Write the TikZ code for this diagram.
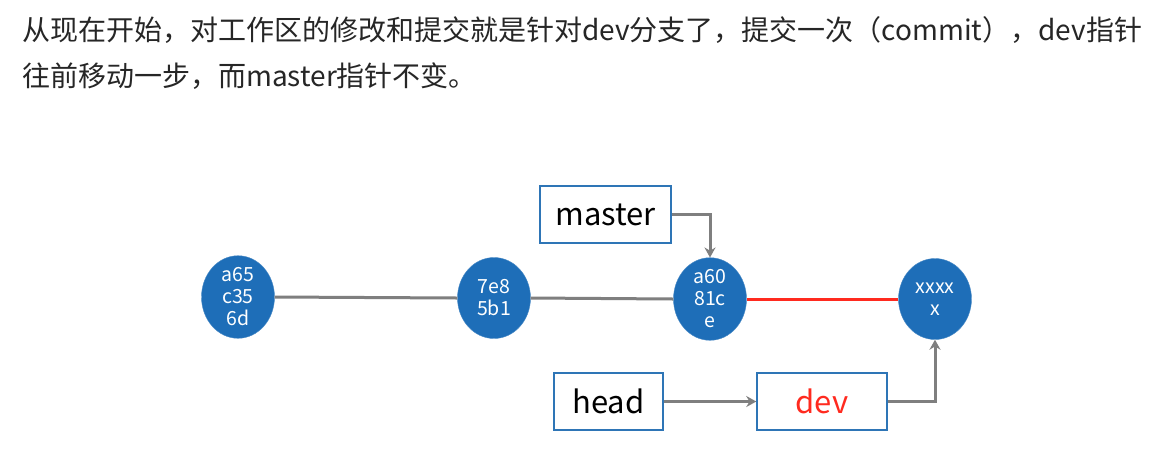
\documentclass[tikz,border=0pt]{standalone}
\usepackage{fontspec}
\setmainfont{Noto Sans CJK SC}
\usetikzlibrary{shapes.geometric,arrows.meta}
\definecolor{cblue}{HTML}{1E6EB8}
\definecolor{bborder}{HTML}{2E75B6}
\definecolor{agray}{HTML}{7F7F7F}
\definecolor{cred}{HTML}{FF2A1F}
\definecolor{tgray}{HTML}{262626}
\tikzset{
  commit/.style={ellipse, fill=cblue, draw=cblue!80!white, minimum width=73pt, minimum height=81pt, inner sep=0pt, text=white, font=\fontsize{19.5}{22}\selectfont, align=center},
  ptrbox/.style={draw=bborder, line width=1.5pt, fill=white, minimum height=57pt, inner sep=0pt, font=\fontsize{31}{33}\selectfont},
  conn/.style={draw=agray, line width=3pt},
  arr/.style={conn, -{Stealth[length=10pt,width=11pt]}},
  desc/.style={anchor=west, inner sep=0pt, text=tgray, font=\fontsize{28}{30}\selectfont}
}
\begin{document}
\begin{tikzpicture}[x=1pt,y=1pt]
\useasboundingbox[fill=white] (0,0) rectangle (1170,-451);
\node[desc] (l1) at (22,-30) {从现在开始，对工作区的修改和提交就是针对dev分支了，提交一次（commit），dev指针};
\node[desc] (l2) at (22,-76) {往前移动一步，而master指针不变。};
\node[commit] (c1) at (238,-297) {a65\\c35\\6d};
\node[commit] (c2) at (494,-298) {7e8\\5b1};
\node[commit] (c3) at (710,-299) {a60\\81c\\e};
\node[commit] (c4) at (935,-299) {xxxx\\x};
\node[ptrbox, minimum width=131pt] (master) at (605.5,-214.5) {master};
\node[ptrbox, minimum width=109pt] (head) at (608.5,-401.5) {head};
\node[ptrbox, minimum width=130pt, text=cred] (dev) at (822,-401.5) {dev};
\draw[conn] (c1.east) -- (c2.west);
\draw[conn] (c2.east) -- (c3.west);
\draw[draw=cred, line width=3pt] (c3.east) -- (c4.west);
\draw[arr] (master.east) -| (c3.north);
\draw[arr] (head.east) -- (dev.west);
\draw[arr] (dev.east) -| (c4.south);
\end{tikzpicture}
\end{document}
